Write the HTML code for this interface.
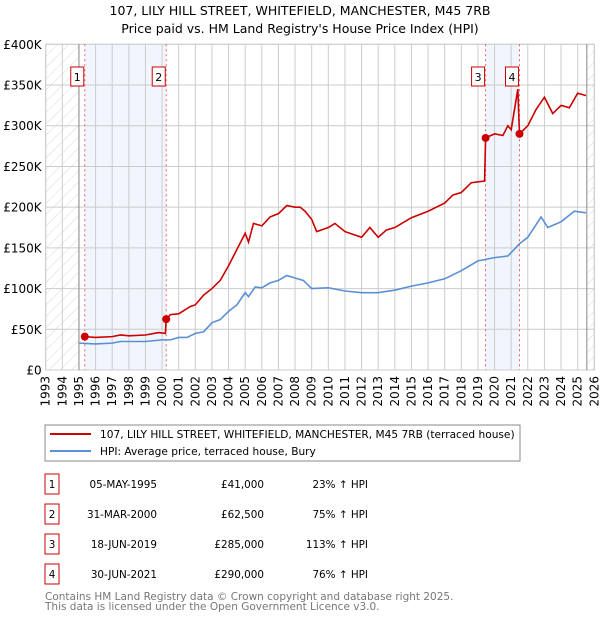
<!DOCTYPE html>
<html><head><meta charset="utf-8"><style>
body{margin:0;background:#fff;font-family:"DejaVu Sans","Liberation Sans",sans-serif;}
svg text{font-family:"DejaVu Sans","Liberation Sans",sans-serif;}
</style></head><body>
<svg id="chart" width="600" height="620" xmlns="http://www.w3.org/2000/svg">
<defs><pattern id="hatch" width="8" height="8" patternUnits="userSpaceOnUse" patternTransform="rotate(45)"><line x1="0" y1="0" x2="0" y2="8" stroke="#d8d8d8" stroke-width="1"/></pattern></defs>
<text x="300" y="15" text-anchor="middle" font-size="12.5">107, LILY HILL STREET, WHITEFIELD, MANCHESTER, M45 7RB</text>
<text x="300" y="33" text-anchor="middle" font-size="12.5">Price paid vs. HM Land Registry's House Price Index (HPI)</text>
<g id="plot"></g>
<rect x="45" y="425" width="475" height="36" fill="#fff" stroke="#888"/>
<line x1="50" y1="434" x2="91" y2="434" stroke="#cc0000" stroke-width="2"/>
<text x="100" y="438" font-size="10.6">107, LILY HILL STREET, WHITEFIELD, MANCHESTER, M45 7RB (terraced house)</text>
<line x1="50" y1="451" x2="91" y2="451" stroke="#5b8fd6" stroke-width="2"/>
<text x="100" y="455" font-size="10.6">HPI: Average price, terraced house, Bury</text>
<g id="table" font-size="10.4"></g>
<text x="45" y="600" font-size="10.5" fill="#777">Contains HM Land Registry data © Crown copyright and database right 2025.</text>
<text x="45" y="610" font-size="10.5" fill="#777">This data is licensed under the Open Government Licence v3.0.</text>
</svg>
<script>
const yTicks=[0,50,100,150,200,250,300,350,400];
const yTickLabels=["£0","£50K","£100K","£150K","£200K","£250K","£300K","£350K","£400K"];
const xYears=[1993,1994,1995,1996,1997,1998,1999,2000,2001,2002,2003,2004,2005,2006,2007,2008,2009,2010,2011,2012,2013,2014,2015,2016,2017,2018,2019,2020,2021,2022,2023,2024,2025,2026];
const redT=[1995.35,1996,1997,1997.5,1998,1999,1999.8,2000.2,2000.25,2000.5,2001,2001.7,2002,2002.5,2003,2003.5,2004,2004.5,2005,2005.2,2005.5,2006,2006.5,2007,2007.5,2008,2008.3,2008.6,2009,2009.3,2010,2010.4,2011,2012,2012.5,2013,2013.5,2014,2015,2016,2017,2017.5,2018,2018.6,2019.4,2019.46,2020,2020.5,2020.8,2021,2021.4,2021.5,2022,2022.5,2023,2023.5,2024,2024.5,2025,2025.5];
const redV=[41,40,41,43,42,43,46,45,62.5,68,69,78,80,92,100,110,128,148,168,157,180,177,188,192,202,200,200,195,185,170,175,180,170,163,175,163,172,175,187,195,205,215,218,230,232,285,290,288,300,295,345,290,300,320,335,315,325,322,340,337];
const blueT=[1995,1996,1997,1997.5,1999,2000,2000.5,2001,2001.5,2002,2002.5,2003,2003.5,2004,2004.5,2005,2005.2,2005.6,2006,2006.5,2007,2007.5,2008,2008.5,2009,2010,2011,2012,2013,2014,2015,2016,2017,2018,2019,2020,2020.8,2021.5,2022,2022.8,2023.2,2024,2024.8,2025.5];
const blueV=[33,32,33,35,35,37,37,40,40,45,47,58,62,72,80,95,90,102,101,107,110,116,113,110,100,101,97,95,95,98,103,107,112,122,134,138,140,155,163,188,175,182,195,193];
const saleT=[1995.35,2000.25,2019.46,2021.5];
const saleV=[41,62.5,285,290];
const saleLabels=["1","2","3","4"];
const saleDates=["05-MAY-1995","31-MAR-2000","18-JUN-2019","30-JUN-2021"];
const salePrices=["£41,000","£62,500","£285,000","£290,000"];
const saleHpi=["23% ↑ HPI","75% ↑ HPI","113% ↑ HPI","76% ↑ HPI"];

const NS="http://www.w3.org/2000/svg";
const X0=45.7,X1=594.3,Y0=370,Y1=44.3;
const xs=t=>X0+(t-1993)*(X1-X0)/33;
const ys=v=>Y0-v*(Y0-Y1)/400;
const plot=document.getElementById('plot');
function mk(tag,attrs,parent){const e=document.createElementNS(NS,tag);for(const k in attrs)e.setAttribute(k,attrs[k]);(parent||plot).appendChild(e);return e;}
let e;
e=mk('rect',{x:X0,y:Y1,width:X1-X0,height:Y0-Y1,fill:'#fff',stroke:'#ccc'});


e=mk('rect',{x:xs(1993),y:Y1,width:xs(1995)-xs(1993),height:Y0-Y1,fill:'url(#hatch)'});


e=mk('rect',{x:xs(2025.55),y:Y1,width:xs(2026)-xs(2025.55),height:Y0-Y1,fill:'url(#hatch)'});


[[0,1],[2,3]].forEach(p=>{e=mk('rect',{x:xs(saleT[p[0]]),y:Y1,width:xs(saleT[p[1]])-xs(saleT[p[0]]),height:Y0-Y1,fill:'#eef3fc',opacity:0.8});

});
xYears.forEach(yr=>{e=mk('line',{x1:xs(yr),x2:xs(yr),y1:Y1,y2:Y0,stroke:'#ccc'});


e=mk('text',{transform:`translate(${xs(yr)+4},${Y0+6}) rotate(-90)`,'text-anchor':'end','font-size':'12'});e.textContent=yr;

});
yTicks.forEach((v,i)=>{e=mk('line',{x1:X0,x2:X1,y1:ys(v),y2:ys(v),stroke:'#ccc'});


e=mk('text',{x:X0-4,y:ys(v)+4.5,'text-anchor':'end','font-size':'12'});e.textContent=yTickLabels[i];

});
[1995,2025.55].forEach(t=>{e=mk('line',{x1:xs(t),x2:xs(t),y1:Y1,y2:Y0,stroke:'#888'});

});
saleT.forEach((t,i)=>{e=mk('line',{x1:xs(t),x2:xs(t),y1:Y1,y2:Y0,stroke:'#f06060','stroke-dasharray':'2,3'});


e=mk('rect',{x:xs(t)-14,y:67,width:13,height:19,fill:'#fff',stroke:'#cc0000'});


e=mk('text',{x:xs(t)-7.5,y:81,'text-anchor':'middle','font-size':'11'});e.textContent=saleLabels[i];

});
e=mk('polyline',{points:blueT.map((t,i)=>xs(t)+','+ys(blueV[i])).join(' '),fill:'none',stroke:'#5b8fd6','stroke-width':1.6});


e=mk('polyline',{points:redT.map((t,i)=>xs(t)+','+ys(redV[i])).join(' '),fill:'none',stroke:'#cc0000','stroke-width':1.6});


saleT.forEach((t,i)=>{e=mk('circle',{cx:xs(t),cy:ys(saleV[i]),r:4,fill:'#cc0000'});

});
const tb=document.getElementById('table');
const rowY=[484,514,544,574];
saleLabels.forEach((l,i)=>{const y=rowY[i];
e=mk('rect',{x:45,y:y-10,width:14,height:20,fill:'#fff',stroke:'#cc0000'},tb);


e=mk('text',{x:52,y:y+4,'text-anchor':'middle'},tb);e.textContent=l;


e=mk('text',{x:157,y:y+4,'text-anchor':'end'},tb);e.textContent=saleDates[i];


e=mk('text',{x:264,y:y+4,'text-anchor':'end'},tb);e.textContent=salePrices[i];


e=mk('text',{x:368,y:y+4,'text-anchor':'end'},tb);e.textContent=saleHpi[i];

});
</script>
</body></html>
